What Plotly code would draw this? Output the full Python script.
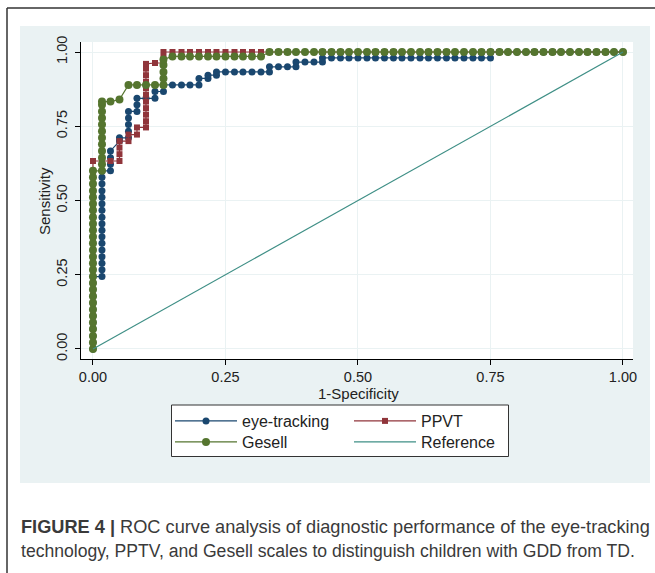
import plotly.graph_objects as go

# ---------------- data ----------------
eye_fpr = [0, 0, 0, 0, 0, 0, 0, 0, 0, 0, 0, 0,
           0.017, 0.017, 0.017, 0.017, 0.017, 0.017, 0.017, 0.017, 0.017, 0.017, 0.017, 0.017, 0.017, 0.017, 0.017, 0.017, 0.017,
           0.033, 0.033, 0.033, 0.033,
           0.050, 0.050,
           0.067, 0.067, 0.067, 0.067, 0.067,
           0.083, 0.083, 0.083,
           0.100,
           0.117, 0.117,
           0.133, 0.133,
           0.150, 0.167, 0.183,
           0.200, 0.200,
           0.217, 0.217,
           0.233, 0.233,
           0.250, 0.267, 0.283, 0.300, 0.317,
           0.333, 0.333,
           0.350, 0.367,
           0.383, 0.383,
           0.400, 0.417,
           0.433, 0.433,
           0.450, 0.467, 0.483, 0.500, 0.517, 0.533, 0.550, 0.567, 0.583, 0.600, 0.617, 0.633, 0.650, 0.667, 0.683, 0.700, 0.717, 0.733,
           0.750, 0.750,
           0.767, 0.783, 0.800, 0.817, 0.833, 0.850, 0.867, 0.883, 0.900, 0.917, 0.933, 0.950, 0.967, 0.983, 1.000]
eye_tpr = [0.000, 0.022, 0.044, 0.067, 0.089, 0.111, 0.133, 0.156, 0.178, 0.200, 0.222, 0.244,
           0.244, 0.267, 0.289, 0.311, 0.333, 0.356, 0.378, 0.400, 0.422, 0.444, 0.467, 0.489, 0.511, 0.533, 0.556, 0.578, 0.600,
           0.600, 0.622, 0.644, 0.667,
           0.700, 0.711,
           0.711, 0.733, 0.756, 0.778, 0.800,
           0.800, 0.822, 0.844,
           0.844,
           0.844, 0.867,
           0.867, 0.889,
           0.889, 0.889, 0.889,
           0.889, 0.911,
           0.911, 0.922,
           0.922, 0.933,
           0.933, 0.933, 0.933, 0.933, 0.933,
           0.933, 0.950,
           0.950, 0.950,
           0.950, 0.966,
           0.966, 0.966,
           0.966, 0.980,
           0.980, 0.980, 0.980, 0.980, 0.980, 0.980, 0.980, 0.980, 0.980, 0.980, 0.980, 0.980, 0.980, 0.980, 0.980, 0.980, 0.980, 0.980,
           0.980, 1.000,
           1.000, 1.000, 1.000, 1.000, 1.000, 1.000, 1.000, 1.000, 1.000, 1.000, 1.000, 1.000, 1.000, 1.000, 1.000]

ppvt_fpr = [0, 0, 0, 0, 0, 0, 0, 0, 0, 0, 0, 0, 0, 0, 0, 0, 0, 0, 0, 0, 0, 0, 0, 0, 0, 0, 0, 0, 0,
            0.017, 0.033,
            0.050, 0.050, 0.050, 0.050,
            0.067, 0.067,
            0.083, 0.083,
            0.100, 0.100, 0.100, 0.100, 0.100, 0.100, 0.100, 0.100, 0.100, 0.100, 0.100,
            0.117,
            0.133, 0.133, 0.133,
            0.150, 0.167, 0.183, 0.200, 0.217, 0.233, 0.250, 0.267, 0.283, 0.300, 0.317, 0.333, 0.350, 0.367, 0.383, 0.400,
            0.417, 0.433, 0.450, 0.467, 0.483, 0.500, 0.517, 0.533, 0.550, 0.567, 0.583, 0.600, 0.617, 0.633, 0.650, 0.667,
            0.683, 0.700, 0.717, 0.733, 0.750, 0.767, 0.783, 0.800, 0.817, 0.833, 0.850, 0.867, 0.883, 0.900, 0.917, 0.933,
            0.950, 0.967, 0.983, 1.000]
ppvt_tpr = [0.000, 0.022, 0.044, 0.067, 0.089, 0.111, 0.133, 0.156, 0.178, 0.200, 0.222, 0.244, 0.267, 0.289, 0.311,
            0.333, 0.356, 0.378, 0.400, 0.422, 0.444, 0.467, 0.489, 0.511, 0.533, 0.556, 0.578, 0.600, 0.633,
            0.633, 0.633,
            0.633, 0.656, 0.678, 0.700,
            0.700, 0.722,
            0.722, 0.746,
            0.746, 0.767, 0.789, 0.811, 0.833, 0.856, 0.878, 0.900, 0.922, 0.944, 0.960,
            0.963,
            0.963, 0.980, 1.000,
            1.000, 1.000, 1.000, 1.000, 1.000, 1.000, 1.000, 1.000, 1.000, 1.000, 1.000, 1.000, 1.000, 1.000, 1.000, 1.000,
            1.000, 1.000, 1.000, 1.000, 1.000, 1.000, 1.000, 1.000, 1.000, 1.000, 1.000, 1.000, 1.000, 1.000, 1.000, 1.000,
            1.000, 1.000, 1.000, 1.000, 1.000, 1.000, 1.000, 1.000, 1.000, 1.000, 1.000, 1.000, 1.000, 1.000, 1.000, 1.000,
            1.000, 1.000, 1.000, 1.000]

gesell_fpr = [0, 0, 0, 0, 0, 0, 0, 0, 0, 0, 0, 0, 0, 0, 0, 0, 0, 0, 0, 0, 0, 0, 0, 0, 0, 0, 0, 0,
              0.017, 0.017, 0.017, 0.017, 0.017, 0.017, 0.017, 0.017, 0.017, 0.017, 0.017, 0.017,
              0.033, 0.050,
              0.067, 0.083, 0.100, 0.117,
              0.133, 0.133, 0.133, 0.133, 0.133,
              0.150, 0.167, 0.183, 0.200, 0.217, 0.233, 0.250, 0.267, 0.283, 0.300, 0.317,
              0.333, 0.350, 0.367, 0.383, 0.400, 0.417, 0.433, 0.450, 0.467, 0.483, 0.500, 0.517, 0.533, 0.550, 0.567,
              0.583, 0.600, 0.617, 0.633, 0.650, 0.667, 0.683, 0.700, 0.717, 0.733, 0.750, 0.767, 0.783, 0.800, 0.817,
              0.833, 0.850, 0.867, 0.883, 0.900, 0.917, 0.933, 0.950, 0.967, 0.983, 1.000]
gesell_tpr = [0.000, 0.022, 0.044, 0.067, 0.089, 0.111, 0.133, 0.156, 0.178, 0.200, 0.222, 0.244, 0.267, 0.289,
              0.311, 0.333, 0.356, 0.378, 0.400, 0.422, 0.444, 0.467, 0.489, 0.511, 0.533, 0.556, 0.578, 0.600,
              0.600, 0.622, 0.644, 0.667, 0.689, 0.711, 0.733, 0.756, 0.778, 0.800, 0.822, 0.833,
              0.833, 0.840,
              0.889, 0.889, 0.889, 0.889,
              0.889, 0.911, 0.933, 0.956, 0.975,
              0.985, 0.985, 0.985, 0.985, 0.985, 0.985, 0.985, 0.985, 0.985, 0.985, 0.985,
              1.000, 1.000, 1.000, 1.000, 1.000, 1.000, 1.000, 1.000, 1.000, 1.000, 1.000, 1.000, 1.000, 1.000, 1.000,
              1.000, 1.000, 1.000, 1.000, 1.000, 1.000, 1.000, 1.000, 1.000, 1.000, 1.000, 1.000, 1.000, 1.000, 1.000,
              1.000, 1.000, 1.000, 1.000, 1.000, 1.000, 1.000, 1.000, 1.000, 1.000, 1.000]

ref_x = [0, 1]
ref_y = [0, 1]

tick_vals = [0, 0.25, 0.5, 0.75, 1.0]
tick_text = ["0.00", "0.25", "0.50", "0.75", "1.00"]

series_names = ["eye-tracking", "PPVT", "Gesell", "Reference"]
x_title = "1-Specificity"
y_title = "Sensitivity"
caption_bold = "FIGURE 4 |"
caption_line1 = " ROC curve analysis of diagnostic performance of the eye-tracking"
caption_line2 = "technology, PPTV, and Gesell scales to distinguish children with GDD from TD."

# ---------------- styling ----------------
W, H = 655, 573
L, R, T, B = 81, 22, 42, 214
PW, PH = W - L - R, H - T - B


def px(xp):
    return (xp - L) / PW


def py(yp):
    return (H - B - yp) / PH


NAVY = "#1a476f"
MAROON = "#90353b"
GREEN = "#55752f"
TEAL = "#3f8f86"
PANEL = "#eaf2f3"
FONT = "Liberation Sans, Arial, sans-serif"

fig = go.Figure()
fig.add_trace(go.Scatter(x=eye_fpr, y=eye_tpr, name=series_names[0], mode="lines+markers",
                         line=dict(color=NAVY, width=1.2), legend="legend",
                         marker=dict(symbol="circle", size=7, color=NAVY)))
fig.add_trace(go.Scatter(x=ppvt_fpr, y=ppvt_tpr, name=series_names[1], mode="lines+markers",
                         line=dict(color=MAROON, width=1.2), legend="legend2",
                         marker=dict(symbol="square", size=6, color=MAROON)))
fig.add_trace(go.Scatter(x=gesell_fpr, y=gesell_tpr, name=series_names[2], mode="lines+markers",
                         line=dict(color=GREEN, width=1.2), legend="legend3",
                         marker=dict(symbol="circle", size=8, color=GREEN)))
fig.add_trace(go.Scatter(x=ref_x, y=ref_y, name=series_names[3], mode="lines", legend="legend4",
                         line=dict(color=TEAL, width=1.2)))

shapes = [
    # light panel
    dict(type="rect", xref="paper", yref="paper", x0=px(20), x1=px(650), y0=py(483), y1=py(26),
         fillcolor=PANEL, line=dict(width=0), layer="below"),
    # white plot region
    dict(type="rect", xref="paper", yref="paper", x0=0, x1=1, y0=0, y1=1,
         fillcolor="white", line=dict(width=0), layer="below"),
    # legend box
    dict(type="rect", xref="paper", yref="paper", x0=px(171.5), x1=px(508.5), y0=py(456.5), y1=py(405),
         fillcolor="white", line=dict(color="#333333", width=1), layer="below"),
    # outer frame lines
    dict(type="line", xref="paper", yref="paper", x0=px(7), x1=px(7), y0=py(573), y1=py(8),
         line=dict(color="#333333", width=1.5)),
    dict(type="line", xref="paper", yref="paper", x0=px(7), x1=px(655), y0=py(8), y1=py(8),
         line=dict(color="#333333", width=1.5)),
]

annotations = [
    dict(text=x_title, xref="paper", yref="paper", x=px(358), y=py(393), xanchor="center", yanchor="middle",
         showarrow=False, font=dict(family=FONT, size=15, color="#222222")),
    dict(text=y_title, xref="paper", yref="paper", x=px(44), y=py(201), xanchor="center", yanchor="middle",
         textangle=-90, showarrow=False, font=dict(family=FONT, size=15, color="#222222")),
    dict(text="<b>" + caption_bold + "</b>" + caption_line1, xref="paper", yref="paper", x=px(19), y=py(527),
         xanchor="left", yanchor="middle", showarrow=False, font=dict(family=FONT, size=18.2, color="#3a3a3a")),
    dict(text=caption_line2, xref="paper", yref="paper", x=px(19), y=py(551),
         xanchor="left", yanchor="middle", showarrow=False, font=dict(family=FONT, size=17.6, color="#3a3a3a")),
]

axis_common = dict(
    tickvals=tick_vals, ticktext=tick_text, showgrid=True, gridcolor=PANEL, gridwidth=1,
    zeroline=False, showline=True, linecolor="black", linewidth=1, ticks="outside", ticklen=5,
    tickcolor="black", tickfont=dict(family=FONT, size=14.5, color="#222222"), mirror=False,
)

legend_common = dict(xanchor="left", yanchor="top", bgcolor="rgba(0,0,0,0)", borderwidth=0,
                     itemwidth=62, orientation="h",
                     font=dict(family=FONT, size=16, color="#222222"))

fig.update_layout(
    width=W, height=H, margin=dict(l=L, r=R, t=T, b=B, pad=0),
    paper_bgcolor="white", plot_bgcolor="white",
    xaxis=dict(range=[-0.0226, 1.0189], ticklabelstandoff=0, **axis_common),
    yaxis=dict(range=[-0.0337, 1.0337], tickangle=-90, ticklabelstandoff=2, **axis_common),
    showlegend=True,
    legend=dict(x=px(170), y=py(404), **legend_common),
    legend2=dict(x=px(349), y=py(404), **legend_common),
    legend3=dict(x=px(170), y=py(425), **legend_common),
    legend4=dict(x=px(349), y=py(425), **legend_common),
    shapes=shapes, annotations=annotations,
)

fig.write_html("out.html", config={"displayModeBar": False},
               post_script="document.body.style.margin='0px';")
